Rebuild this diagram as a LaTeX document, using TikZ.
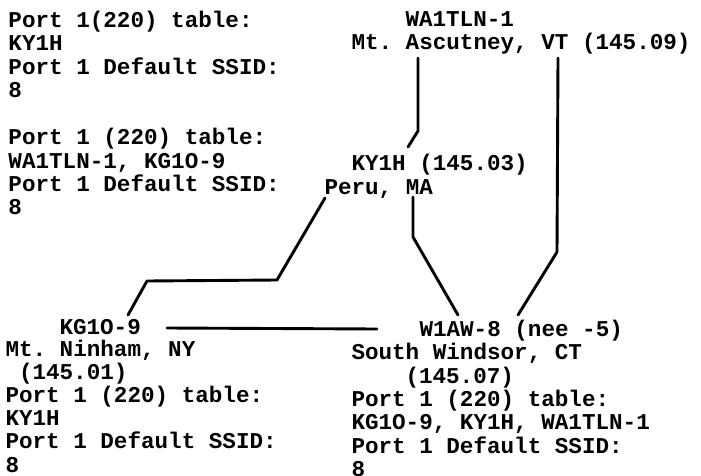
\documentclass[tikz,border=0pt]{standalone}
\usepackage{fontspec}
\newfontfamily\tw{Liberation Mono}
\frenchspacing
\tikzset{
  txt/.style={anchor=base west, inner sep=0pt, outer sep=0pt,
    font=\tw\bfseries\fontsize{22.6pt}{23.3pt}\selectfont\frenchspacing},
  link/.style={line width=2.9pt, line join=round, line cap=round}
}
\begin{document}
\begin{tikzpicture}[x=1pt,y=-1pt]
\useasboundingbox (0,0) rectangle (701,476);
% top-left tables
\node[txt] (tl1) at (8.5,27.5) {Port 1(220) table:};
\node[txt] (tl2) at (8.5,50.5) {KY1H};
\node[txt] (tl3) at (8.5,74.5) {Port 1 Default SSID:};
\node[txt] (tl4) at (8.5,97.5) {8};
\node[txt] (ml1) at (8.5,144.5) {Port 1 (220) table:};
\node[txt] (ml2) at (8.5,168.5) {WA1TLN-1, KG1O-9};
\node[txt] (ml3) at (8.5,191.5) {Port 1 Default SSID:};
\node[txt] (ml4) at (8.5,214.5) {8};
% WA1TLN-1
\node[txt] (wa) at (405.5,26.5) {WA1TLN-1};
\node[txt] (wasite) at (351.5,49.5) {Mt. Ascutney, VT (145.09)};
% KY1H
\node[txt] (ky) at (351.5,170.5) {KY1H (145.03)};
\node[txt] (kysite) at (324.5,194.5) {Peru, MA};
% KG1O-9
\node[txt] (kg) at (59.5,334.5) {KG1O-9};
\node[txt] (kgsite) at (5.5,356.5) {Mt. Ninham, NY};
\node[txt] (kgfreq) at (19,379.5) {(145.01)};
\node[txt] (kg1) at (5.5,402.5) {Port 1 (220) table:};
\node[txt] (kg2) at (5.5,425.5) {KY1H};
\node[txt] (kg3) at (5.5,448.5) {Port 1 Default SSID:};
\node[txt] (kg4) at (5.5,472.5) {8};
% W1AW-8
\node[txt] (w1) at (419.5,336.5) {W1AW-8 (nee -5)};
\node[txt] (w1site) at (351.5,359.5) {South Windsor, CT};
\node[txt] (w1freq) at (405.5,383.5) {(145.07)};
\node[txt] (w11) at (351.5,406.5) {Port 1 (220) table:};
\node[txt] (w12) at (351.5,429.5) {KG1O-9, KY1H, WA1TLN-1};
\node[txt] (w13) at (351.5,453.5) {Port 1 Default SSID:};
\node[txt] (w14) at (351.5,476.5) {8};
% connector end points
\coordinate (a1) at (418,58);  \coordinate (a2) at (418,131); \coordinate (a3) at (408,147);
\coordinate (b1) at (558,58);  \coordinate (b2) at (557,252); \coordinate (b3) at (518,315);
\coordinate (c1) at (413,197); \coordinate (c2) at (413,237); \coordinate (c3) at (458,315);
\coordinate (d1) at (325,198); \coordinate (d2) at (277,280); \coordinate (d3) at (147,281); \coordinate (d4) at (128,315);
\coordinate (e1) at (167,328); \coordinate (e2) at (377,329);
% connectors
\draw[link] (a1) -- (a2) -- (a3);
\draw[link] (b1) -- (b2) -- (b3);
\draw[link] (c1) -- (c2) -- (c3);
\draw[link] (d1) -- (d2) -- (d3) -- (d4);
\draw[link] (e1) -- (e2);
\end{tikzpicture}
\end{document}
